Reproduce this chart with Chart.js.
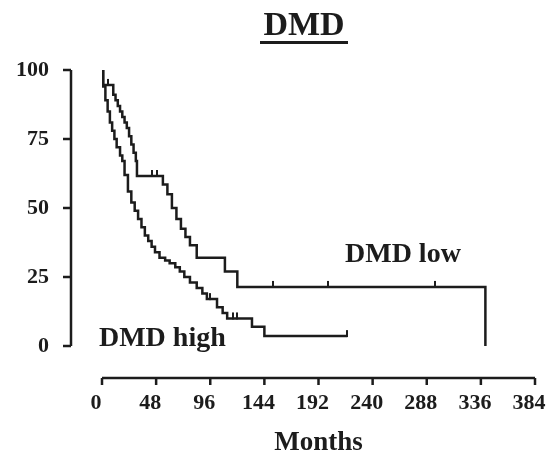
<!DOCTYPE html>
<html>
<head>
<meta charset="utf-8">
<script src="https://cdn.jsdelivr.net/npm/chart.js@4.4.1/dist/chart.umd.min.js"></script>
<style>
  html, body { margin: 0; padding: 0; background: #fff; }
  #wrap { width: 550px; height: 455px; }
</style>
</head>
<body>
<div id="wrap"><canvas id="km"></canvas></div>
<script>
// Kaplan-Meier plot: DMD low vs DMD high, % surviving by month

// --- data ---
const xTicks = [0, 48, 96, 144, 192, 240, 288, 336, 384];
const yTicks = [0, 25, 50, 75, 100];

// step points: survival drops to lowSurv[i] at lowMonths[i]
const lowMonths = [0, 1, 10, 12, 14, 16, 18, 20, 22, 24, 26, 28, 30, 31, 54, 58, 62, 66, 70, 74, 78, 84, 109, 120, 340];
const lowSurv = [100, 94.6, 91, 89, 87, 85, 83, 81, 79, 76, 73, 70, 67, 61.6, 58.5, 55, 50, 46, 42.5, 39.5, 36.5, 32, 27, 21.4, 0];
const lowCensored = [5, 44, 49, 152, 200, 295];

const highMonths = [0, 1, 3, 5, 7, 9, 11, 13, 16, 18, 20, 23, 26, 29, 32, 35, 38, 41, 44, 47, 51, 56, 60, 65, 69, 73, 78, 84, 89, 93, 102, 107, 111, 133, 144, 217];
const highSurv = [100, 94, 89, 85, 81, 78, 75, 72, 69, 67, 62, 56, 52, 49, 46, 43, 40, 38, 36, 34, 32, 31, 30, 28.5, 27, 25, 23, 21, 19, 17, 14, 12, 10, 7, 3.6, 3.6];
const highCensored = [96, 116, 120, 217];

const FONT = "'Liberation Serif', 'Times New Roman', serif";
const INK = "#1c1c1c";

// --- helpers ---
function survAt(months, surv, t) {
  let s = surv[0];
  for (let i = 0; i < months.length; i++) {
    if (months[i] <= t) s = surv[i];
  }
  return s;
}

function kmPoints(months, surv) {
  return months.map((m, i) => ({ x: m, y: surv[i] }));
}

function censorPoints(months, surv, times) {
  return times.map((t) => ({ x: t, y: survAt(months, surv, t) }));
}

// small upward tick used as the censor marker
function censorMark() {
  const c = document.createElement("canvas");
  c.width = 2;
  c.height = 14;
  const g = c.getContext("2d");
  g.fillStyle = INK;
  g.fillRect(0, 1, 2, 7);
  return c;
}
const mark = censorMark();

// axes are drawn detached from the plot, plus title and curve labels
const decorations = {
  id: "decorations",
  afterDraw(chart) {
    const { ctx, chartArea, scales } = chart;
    const x = scales.x;
    const y = scales.y;
    ctx.save();
    ctx.strokeStyle = INK;
    ctx.fillStyle = INK;
    ctx.lineWidth = 2.5;

    const yAxisX = chartArea.left - 31;
    ctx.beginPath();
    ctx.moveTo(yAxisX, y.getPixelForValue(100));
    ctx.lineTo(yAxisX, y.getPixelForValue(0));
    yTicks.forEach((v) => {
      const py = y.getPixelForValue(v);
      ctx.moveTo(yAxisX - 8, py);
      ctx.lineTo(yAxisX, py);
    });
    ctx.stroke();

    const xAxisY = chartArea.bottom + 32;
    ctx.beginPath();
    ctx.moveTo(x.getPixelForValue(0), xAxisY);
    ctx.lineTo(x.getPixelForValue(384), xAxisY);
    xTicks.forEach((v) => {
      const px = x.getPixelForValue(v);
      ctx.moveTo(px, xAxisY);
      ctx.lineTo(px, xAxisY + 7);
    });
    ctx.stroke();

    // underlined title
    ctx.font = "bold 34px " + FONT;
    ctx.textAlign = "center";
    ctx.textBaseline = "alphabetic";
    ctx.fillText("DMD", 304, 35);
    ctx.fillRect(260, 41, 88, 3);

    // curve labels
    ctx.font = "bold 28px " + FONT;
    ctx.textAlign = "left";
    ctx.fillText("DMD high", x.getPixelForValue(-2.7), y.getPixelForValue(0));
    ctx.fillText("DMD low", x.getPixelForValue(215.5), y.getPixelForValue(30.4));
    ctx.restore();
  },
};

const tickFont = { family: FONT, size: 22, weight: "bold" };

new Chart(document.getElementById("km"), {
  type: "line",
  data: {
    datasets: [
      {
        label: "DMD low",
        data: kmPoints(lowMonths, lowSurv),
        stepped: "before",
        borderColor: INK,
        borderWidth: 2.5,
        pointRadius: 0,
        fill: false,
      },
      {
        label: "DMD high",
        data: kmPoints(highMonths, highSurv),
        stepped: "before",
        borderColor: INK,
        borderWidth: 2.5,
        pointRadius: 0,
        fill: false,
      },
      {
        label: "low censored",
        data: censorPoints(lowMonths, lowSurv, lowCensored),
        showLine: false,
        pointStyle: mark,
        pointRadius: 4,
      },
      {
        label: "high censored",
        data: censorPoints(highMonths, highSurv, highCensored),
        showLine: false,
        pointStyle: mark,
        pointRadius: 4,
      },
    ],
  },
  options: {
    responsive: true,
    maintainAspectRatio: false,
    animation: false,
    devicePixelRatio: 1,
    layout: { padding: { top: 70, left: 12, right: 15, bottom: 0 } },
    plugins: {
      legend: { display: false },
      tooltip: { enabled: false },
      title: { display: false },
    },
    scales: {
      x: {
        type: "linear",
        min: 0,
        max: 384,
        afterBuildTicks: (s) => {
          s.ticks = xTicks.map((v) => ({ value: v }));
        },
        grid: { display: false, drawTicks: false },
        border: { display: false },
        ticks: {
          font: tickFont,
          color: INK,
          padding: 44,
          labelOffset: -6,
          maxRotation: 0,
          autoSkip: false,
        },
        title: {
          display: true,
          text: "Months",
          color: INK,
          font: { family: FONT, size: 27, weight: "bold" },
          padding: { top: 0, bottom: -4 },
        },
        afterFit: (s) => {
          s.height = 109;
          s.paddingLeft = 0;
          s.paddingRight = 0;
        },
      },
      y: {
        min: 0,
        max: 100,
        afterBuildTicks: (s) => {
          s.ticks = yTicks.map((v) => ({ value: v }));
        },
        grid: { display: false, drawTicks: false },
        border: { display: false },
        ticks: { font: tickFont, color: INK, padding: 53 },
        afterFit: (s) => {
          s.width = 90;
        },
      },
    },
  },
  plugins: [decorations],
});
</script>
</body>
</html>
